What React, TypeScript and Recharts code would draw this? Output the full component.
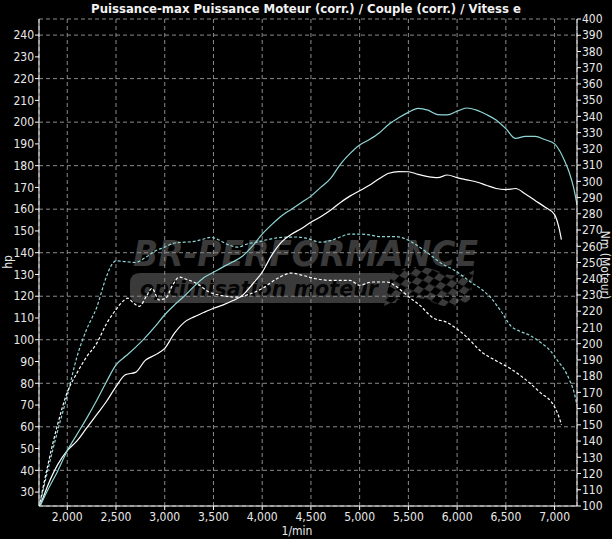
import React from "react";
import { CartesianGrid, Line, LineChart, XAxis, YAxis } from "recharts";

const rpmTicks = [2000, 2500, 3000, 3500, 4000, 4500, 5000, 5500, 6000, 6500, 7000];
const hpTicks = [30, 40, 50, 60, 70, 80, 90, 100, 110, 120, 130, 140, 150, 160, 170, 180, 190, 200, 210, 220, 230, 240];
const nmTicks = [100, 110, 120, 130, 140, 150, 160, 170, 180, 190, 200, 210, 220, 230, 240, 250, 260, 270, 280, 290, 300, 310, 320, 330, 340, 350, 360, 370, 380, 390, 400];

// puissance max (cyan, trait plein)
const powerMaxRpm = [1725, 1800, 1900, 2000, 2100, 2200, 2300, 2400, 2500, 2600, 2700, 2800, 2900, 3000, 3100, 3200, 3300, 3400, 3500, 3600, 3700, 3800, 3900, 4000, 4100, 4200, 4300, 4400, 4500, 4600, 4700, 4800, 4900, 5000, 5100, 5200, 5300, 5400, 5500, 5600, 5700, 5800, 5900, 6000, 6100, 6200, 6300, 6400, 6500, 6600, 6700, 6800, 6900, 7000, 7050, 7100, 7150, 7200, 7230];
const powerMaxHp = [24, 31, 39.5, 49, 56.5, 64, 72, 80.5, 88.5, 92.5, 96.5, 101, 106, 111.5, 116, 120, 124.5, 128.5, 131, 133.5, 135.8, 138.5, 143, 148.5, 153, 157, 160, 163, 166, 170, 174, 180.5, 185.5, 189.5, 192, 195, 199, 202, 204.5, 206.3, 205.5, 203.5, 203.3, 205, 206.5, 205.5, 203.5, 201, 197, 192.5, 193.5, 193.5, 192, 190, 187, 182.5, 177, 169, 162];

// puissance moteur (blanc, trait plein)
const powerRpm = [1725, 1800, 1900, 2000, 2100, 2200, 2300, 2400, 2500, 2600, 2700, 2800, 2900, 3000, 3100, 3200, 3300, 3400, 3500, 3600, 3700, 3800, 3900, 4000, 4100, 4200, 4300, 4400, 4500, 4600, 4700, 4800, 4900, 5000, 5100, 5200, 5300, 5400, 5500, 5600, 5700, 5800, 5900, 6000, 6100, 6200, 6300, 6400, 6500, 6600, 6700, 6800, 6900, 7000, 7030, 7050, 7070];
const powerHp = [24, 33, 42.5, 49, 53.5, 59.5, 65.5, 71.5, 78.5, 84, 85, 90.5, 93, 96, 103, 108, 110.5, 112.5, 114.5, 116, 118, 120.5, 125.5, 131, 139, 145, 148.5, 151, 154, 156.5, 159.5, 163, 166, 168.5, 171, 174, 176.5, 177.3, 177.2, 176, 175, 174.5, 175.7, 174.5, 173.5, 172.5, 171, 169.5, 169, 169.5, 167, 164, 161, 157.5, 154, 150.5, 146];

// couple max (cyan, pointillé)
const torqueMaxRpm = [1715, 1800, 1900, 2000, 2100, 2200, 2300, 2400, 2450, 2500, 2600, 2700, 2800, 2900, 3000, 3100, 3200, 3300, 3400, 3470, 3550, 3650, 3750, 3850, 3950, 4050, 4200, 4350, 4450, 4600, 4700, 4800, 4900, 5000, 5100, 5200, 5350, 5450, 5550, 5650, 5750, 5850, 5950, 6050, 6150, 6250, 6350, 6450, 6550, 6650, 6750, 6850, 6950, 7050, 7100, 7150, 7200, 7230];
const torqueMaxNm = [100, 122, 146, 168, 192, 209, 222, 241, 248, 251, 250.5, 250, 253, 257, 259.5, 262, 262.5, 263, 264.5, 265.5, 264, 261, 259.5, 261.5, 262.5, 264, 265.5, 265.7, 265, 262.5, 263.5, 265.7, 267.5, 267.5, 267, 266, 266, 265, 262, 258, 253.5, 249, 246, 242, 237.5, 233.5, 228, 220, 211, 207.5, 205, 201, 196, 188, 184, 178, 170, 162];

// couple moteur (blanc, pointillé)
const torqueRpm = [1720, 1800, 1900, 2000, 2100, 2200, 2300, 2400, 2500, 2560, 2620, 2680, 2740, 2810, 2870, 2940, 3010, 3080, 3150, 3230, 3330, 3450, 3600, 3740, 3870, 4000, 4150, 4300, 4420, 4550, 4700, 4900, 5000, 5130, 5280, 5380, 5500, 5620, 5750, 5900, 6000, 6100, 6250, 6400, 6550, 6700, 6850, 7000, 7050, 7070];
const torqueNm = [102, 125, 150, 170, 182, 192, 200, 212, 221, 225.5, 228, 225, 223, 229, 234, 227, 228, 236, 241, 239.5, 237, 232, 229.5, 228.7, 230.5, 234, 240, 243.5, 242, 240, 239, 239, 236, 238, 238, 235, 229, 223.5, 216, 213, 209, 204, 195, 189.5, 184.5, 178, 170, 161, 154, 150];

const toPoints = (rpm: number[], vals: number[]) => rpm.map((r, i) => ({ rpm: r, v: vals[i] }));

const powerMax = toPoints(powerMaxRpm, powerMaxHp);
const power = toPoints(powerRpm, powerHp);
const torqueMax = toPoints(torqueMaxRpm, torqueMaxNm);
const torque = toPoints(torqueRpm, torqueNm);

const font = "'Liberation Sans Narrow', 'DejaVu Sans Condensed', 'Arial Narrow', sans-serif";
const tickStyle = { fill: "#e8e8e8", fontSize: 12, fontFamily: font };
const CYAN = "#8fd6d6";

function Watermark() {
  return (
    <svg width={612} height={539} style={{ position: "absolute", left: 0, top: 0 }}>
      <defs>
        <pattern id="checks" width={14} height={14} patternUnits="userSpaceOnUse" patternTransform="rotate(28) skewX(-15)">
          <rect width={14} height={14} fill="#000" />
          <rect width={7} height={7} fill="#3a3a3a" />
          <rect x={7} y={7} width={7} height={7} fill="#3a3a3a" />
        </pattern>
      </defs>
      <text x={133} y={266} fontFamily="'DejaVu Sans', sans-serif" fontSize={36} fontWeight={900} fontStyle="italic" fill="#3a3a3a" textLength={345} lengthAdjust="spacingAndGlyphs">
        BR-PERFORMANCE
      </text>
      <path d="M140 273 L403 273 L396 303 L140 303 Q130 303 130 293 L130 283 Q130 273 140 273 Z" fill="#3a3a3a" />
      <text x={140} y={296} fontFamily="'DejaVu Sans', sans-serif" fontSize={22} fontWeight={700} fontStyle="italic" fill="#050505" textLength={238} lengthAdjust="spacingAndGlyphs">
        optimisation moteur
      </text>
      <path d="M392 272 Q420 262 440 272 Q460 280 474 270 L470 300 Q452 312 432 302 Q410 292 384 306 Z" fill="url(#checks)" />
    </svg>
  );
}

export default function App() {
  return (
    <div style={{ position: "absolute", left: 0, top: 0, width: 612, height: 539, background: "#000", overflow: "hidden", fontFamily: font, color: "#e8e8e8" }}>
      <Watermark />
      <div style={{ position: "absolute", left: 0, top: 0, width: 612, textAlign: "center", fontSize: 13, fontWeight: 700, lineHeight: "17px", color: "#f2f2f2" }}>
        Puissance-max Puissance Moteur (corr.) / Couple (corr.) / Vitess e
      </div>
      <div style={{ position: "absolute", left: 0, top: 0 }}>
        <LineChart width={612} height={539} margin={{ top: 19, right: 0, left: 0, bottom: 0 }}>
          <CartesianGrid yAxisId="hp" stroke="#8a8a8a" strokeDasharray="4 3" />
          <XAxis
            dataKey="rpm"
            type="number"
            domain={[1710, 7230]}
            allowDataOverflow
            ticks={rpmTicks}
            height={33}
            tick={tickStyle}
            tickSize={4}
            tickMargin={2}
            tickLine={{ stroke: "#fff" }}
            axisLine={{ stroke: "#fff" }}
            tickFormatter={(v: number) => v.toLocaleString("en-US")}
          />
          <XAxis xAxisId="top" orientation="top" type="number" domain={[1710, 7230]} height={0} tick={false} tickLine={false} axisLine={{ stroke: "#fff" }} />
          <YAxis
            yAxisId="hp"
            type="number"
            domain={[23.6, 247.4]}
            allowDataOverflow
            ticks={hpTicks}
            width={39}
            tick={tickStyle}
            tickSize={4}
            tickMargin={1}
            tickLine={{ stroke: "#fff" }}
            axisLine={{ stroke: "#fff" }}
          />
          <YAxis
            yAxisId="nm"
            orientation="right"
            type="number"
            domain={[100, 400]}
            allowDataOverflow
            ticks={nmTicks}
            interval={0}
            width={35}
            tick={tickStyle}
            tickSize={4}
            tickMargin={1}
            tickLine={{ stroke: "#fff" }}
            axisLine={{ stroke: "#fff" }}
          />
          <Line data={torqueMax} dataKey="v" yAxisId="nm" type="monotone" stroke={CYAN} strokeWidth={1.2} strokeDasharray="3 2" dot={false} isAnimationActive={false} />
          <Line data={torque} dataKey="v" yAxisId="nm" type="monotone" stroke="#ffffff" strokeWidth={1.2} strokeDasharray="3 2" dot={false} isAnimationActive={false} />
          <Line data={power} dataKey="v" yAxisId="hp" type="monotone" stroke="#ffffff" strokeWidth={1.2} dot={false} isAnimationActive={false} />
          <Line data={powerMax} dataKey="v" yAxisId="hp" type="monotone" stroke={CYAN} strokeWidth={1.2} dot={false} isAnimationActive={false} />
        </LineChart>
      </div>
      <div style={{ position: "absolute", left: 8, top: 262, fontSize: 12, transform: "translate(-50%, -50%) rotate(-90deg)" }}>hp</div>
      <div style={{ position: "absolute", left: 605, top: 265, fontSize: 12, whiteSpace: "nowrap", transform: "translate(-50%, -50%) rotate(90deg)" }}>Nm (Moteur)</div>
      <div style={{ position: "absolute", left: 297, top: 531, fontSize: 12, transform: "translate(-50%, -50%)" }}>1/min</div>
    </div>
  );
}
